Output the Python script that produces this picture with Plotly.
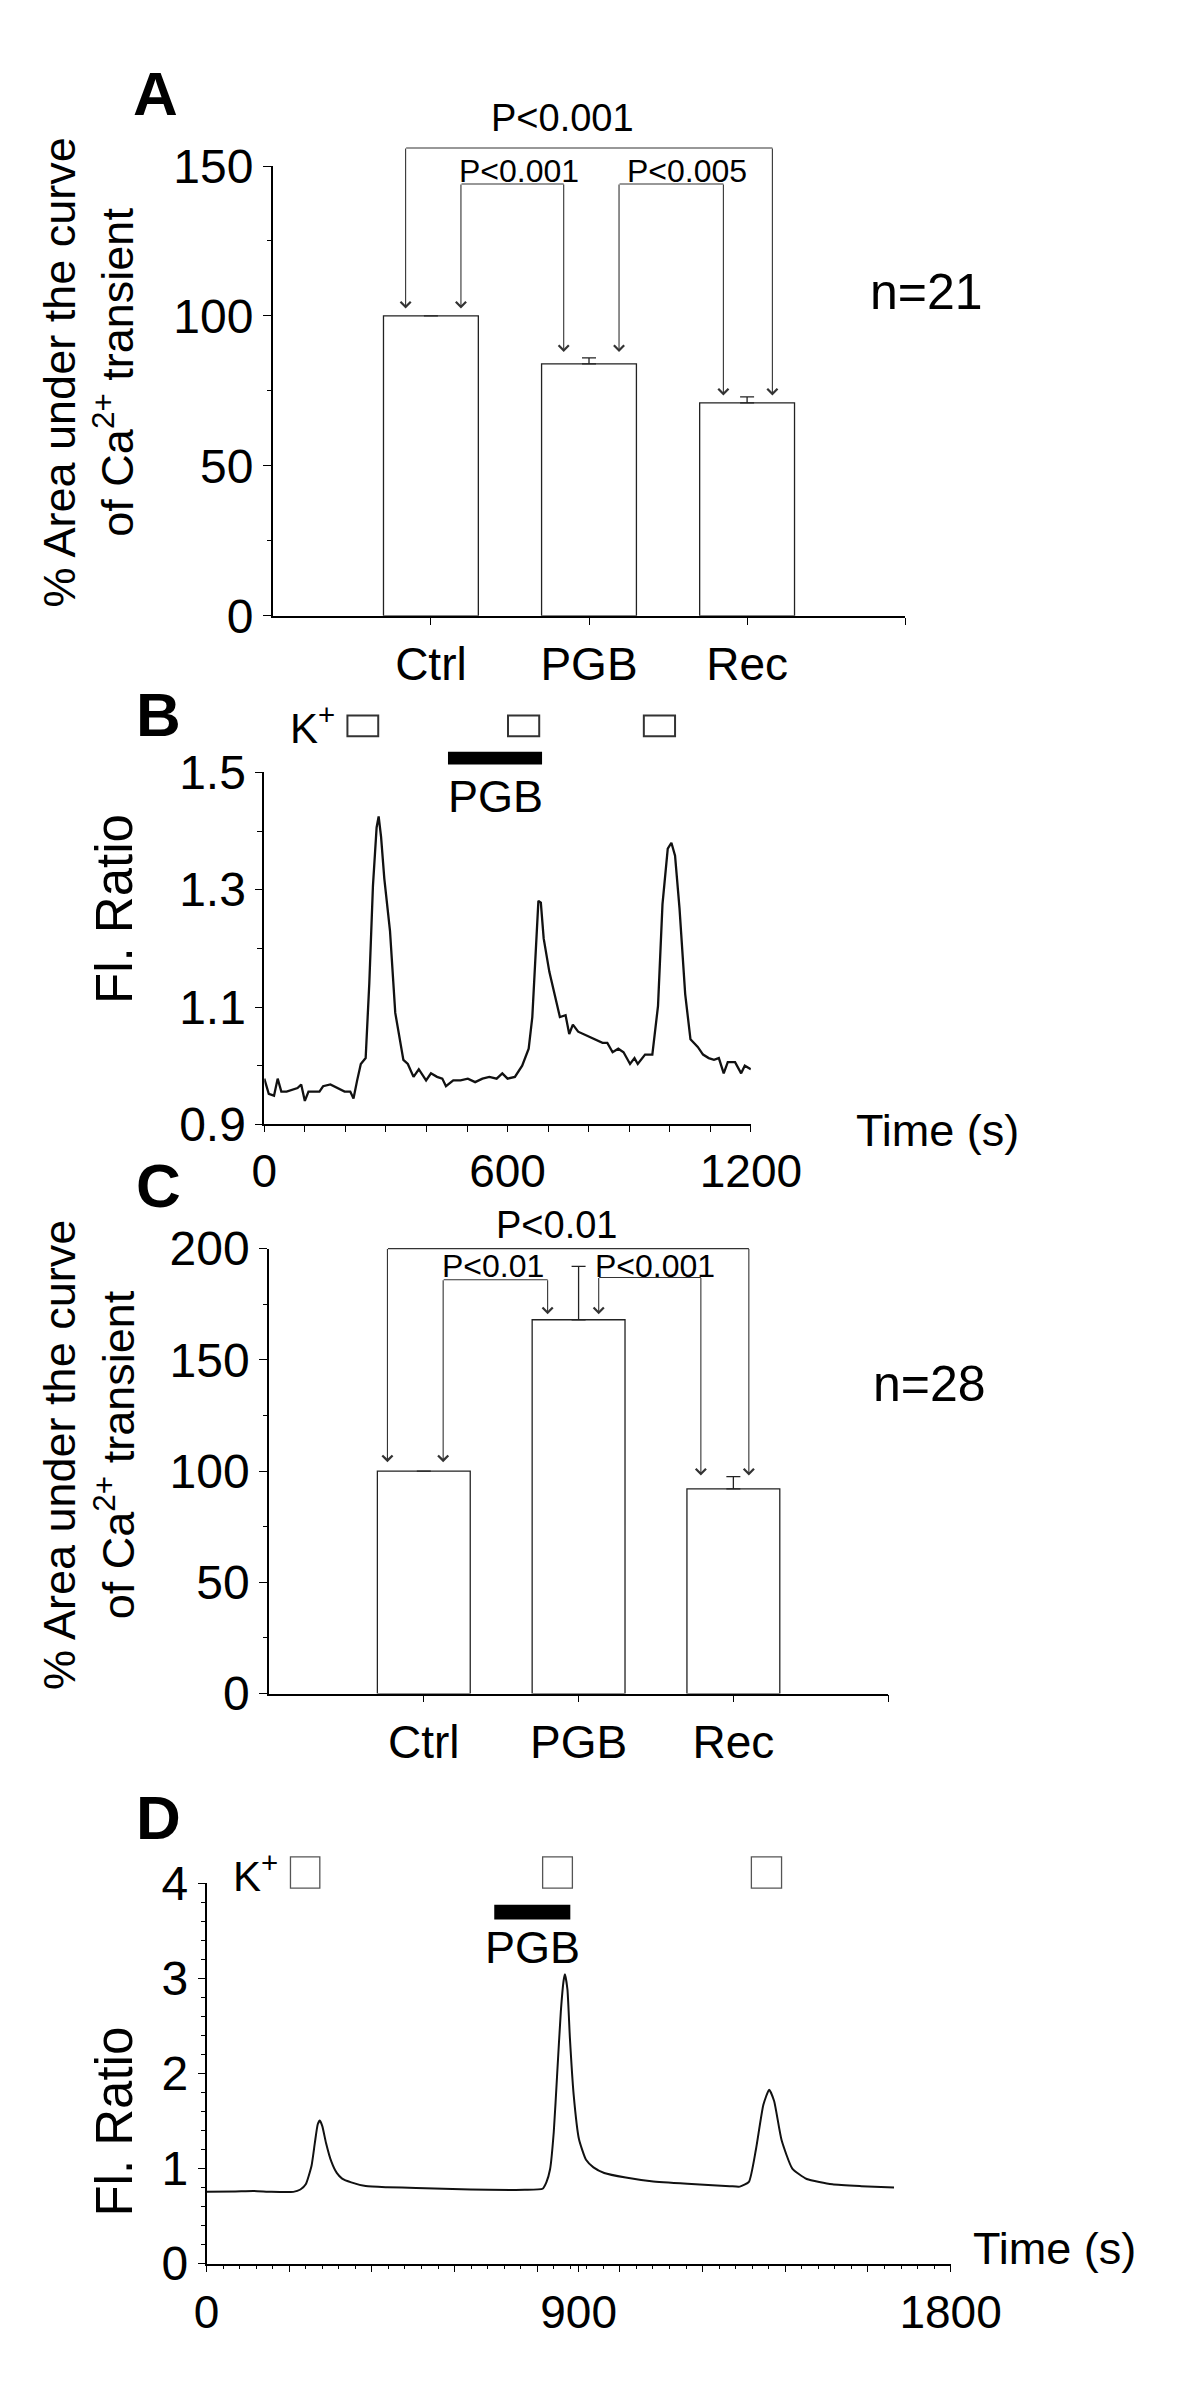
import plotly.graph_objects as go

# ---------------- data ----------------
categories = ["Ctrl", "PGB", "Rec"]

a_values = [100, 84, 71]
a_errors = [0, 2, 2]
a_pvals = ["P<0.001", "P<0.001", "P<0.005"]   # Ctrl-Rec, Ctrl-PGB, PGB-Rec
a_n = "n=21"

c_values = [100, 168, 92]
c_errors = [0, 24, 5.5]
c_pvals = ["P<0.01", "P<0.01", "P<0.001"]     # Ctrl-Rec, Ctrl-PGB, PGB-Rec
c_n = "n=28"

b_time = [0, 11, 24, 33, 42, 55, 82, 91, 100, 109, 136, 145, 163, 180, 198, 212, 220, 229, 238, 250,
          259, 268, 277, 282, 288, 296, 310, 323, 332, 343, 354, 368, 381, 399, 411, 426, 439, 448, 466, 484,
          502, 520, 538, 555, 573, 587, 600, 618, 636, 652, 661, 670, 676, 682, 689, 703, 716, 729, 743, 752,
          761, 774, 796, 814, 834, 846, 859, 873, 886, 902, 913, 921, 939, 957, 971, 982, 995, 1004, 1013, 1024,
          1038, 1051, 1069, 1082, 1096, 1109, 1121, 1133, 1143, 1161, 1176, 1185, 1200]
b_ratio = [0.978, 0.952, 0.949, 0.978, 0.956, 0.956, 0.962, 0.968, 0.940, 0.956, 0.956, 0.965, 0.968, 0.962, 0.956, 0.956, 0.944, 0.975, 1.003, 1.013,
           1.141, 1.307, 1.406, 1.425, 1.390, 1.319, 1.230, 1.090, 1.051, 1.010, 1.003, 0.981, 0.994, 0.975, 0.987, 0.981, 0.978, 0.965, 0.975, 0.975,
           0.978, 0.972, 0.978, 0.981, 0.978, 0.987, 0.978, 0.981, 1.000, 1.029, 1.083, 1.192, 1.281, 1.278, 1.217, 1.160, 1.122, 1.083, 1.086, 1.054,
           1.070, 1.058, 1.051, 1.045, 1.039, 1.039, 1.023, 1.029, 1.023, 1.003, 1.013, 1.003, 1.019, 1.019, 1.102, 1.275, 1.370, 1.380, 1.358, 1.268,
           1.122, 1.045, 1.032, 1.019, 1.013, 1.010, 1.013, 0.987, 1.006, 1.006, 0.987, 1.000, 0.994]
b_k_pulses = [(205, 281), (601, 678), (936, 1013)]
b_pgb = (453, 685)

d_time = [0, 70, 114, 157, 210, 227, 240, 254, 262, 269, 274, 280, 289, 302, 315, 328, 350, 385, 437, 507,
          595, 682, 770, 813, 822, 831, 840, 848, 857, 864, 867, 873, 879, 888, 901, 918, 936, 962, 1014, 1076,
          1163, 1266, 1290, 1312, 1329, 1347, 1361, 1373, 1391, 1417, 1452, 1514, 1584, 1663]
d_ratio = [0.755, 0.76, 0.765, 0.755, 0.755, 0.78, 0.835, 1.03, 1.27, 1.466, 1.505, 1.446, 1.27, 1.072, 0.954, 0.895, 0.855, 0.816, 0.804, 0.796,
           0.784, 0.776, 0.776, 0.788, 0.855, 0.993, 1.387, 1.978, 2.648, 2.983, 3.042, 2.885, 2.372, 1.781, 1.308, 1.092, 1.013, 0.954, 0.906, 0.867,
           0.84, 0.815, 0.81, 0.86, 1.2, 1.67, 1.83, 1.71, 1.30, 1.0, 0.89, 0.835, 0.815, 0.80]
d_k_pulses = [(203, 274), (813, 885), (1318, 1391)]
d_pgb = (696, 880)

b_xticks = list(range(0, 1300, 100))
b_xlabels = ["0", "600", "1200"]
d_xticks = [0, 200, 400, 600, 800, 900, 1000, 1200, 1400, 1600, 1800]
d_xlabels = ["0", "900", "1800"]

# ---------------- layout helpers ----------------
W, H = 1200, 2401
FONT = "Liberation Sans, Arial, Helvetica, sans-serif"


def px(p):
    return p / W


def py(p):
    return 1 - p / H


# y axes: pixel extent (bottom, top) and data range
Y_AXES = {
    "y": ((595, 135), (0, 150)),
    "y2": ((1115, 755), (0.9, 1.5)),
    "y3": ((1697, 1242), (0, 200)),
    "y4": ((2280, 1891), (0, 4)),
}


def ydom(name):
    (b, t), _ = Y_AXES[name]
    return [py(b), py(t)]


def ypaper(name, v):
    (b, t), (r0, r1) = Y_AXES[name]
    d0, d1 = py(b), py(t)
    return d0 + (v - r0) / (r1 - r0) * (d1 - d0)


xpos = [i + 1 for i in range(len(categories))]

fig = go.Figure()

bar_style = dict(width=0.6, marker=dict(color="white", line=dict(color="#222", width=1.3)))

fig.add_trace(go.Bar(x=xpos, y=a_values, xaxis="x", yaxis="y",
                     error_y=dict(type="data", symmetric=False, array=a_errors, arrayminus=[0] * 3,
                                  color="#222", thickness=1.3, width=7), **bar_style))
fig.add_trace(go.Scatter(x=b_time, y=b_ratio, xaxis="x2", yaxis="y2", mode="lines",
                         line=dict(color="#111", width=2.3)))
fig.add_trace(go.Bar(x=xpos, y=c_values, xaxis="x3", yaxis="y3",
                     error_y=dict(type="data", symmetric=False, array=c_errors, arrayminus=[0] * 3,
                                  color="#222", thickness=1.3, width=7), **bar_style))
fig.add_trace(go.Scatter(x=d_time, y=d_ratio, xaxis="x4", yaxis="y4", mode="lines",
                         line=dict(color="#111", width=2, shape="spline", smoothing=0.5)))

ytickfont = dict(family=FONT, size=48, color="black")
xtickfont = dict(family=FONT, size=46, color="black")
base_ax = dict(showline=True, linecolor="black", linewidth=1.6, ticks="outside", tickcolor="black",
               tickwidth=1.3, showgrid=False, zeroline=False, fixedrange=True)


def minor(dtick, tick0=0, ln=4):
    return dict(tickmode="linear", tick0=tick0, dtick=dtick, ticks="outside", ticklen=ln,
                tickcolor="black", tickwidth=1.1, showgrid=False)


def ticktext_for(vals, labels):
    return [str(v) if str(v) in labels else "" for v in vals]


fig.update_layout(
    width=W, height=H, margin=dict(l=0, r=0, t=0, b=0),
    paper_bgcolor="white", plot_bgcolor="rgba(0,0,0,0)", showlegend=False,
    font=dict(family=FONT, color="black"),
    # Panel A
    xaxis=dict(domain=[px(266), px(934)], range=[0, 4], anchor="y", tickfont=xtickfont,
               tickmode="array", tickvals=xpos + [4], ticktext=categories + [""], ticklen=7, **base_ax),
    yaxis=dict(domain=ydom("y"), range=list(Y_AXES["y"][1]), anchor="x", tickfont=ytickfont,
               tickmode="array", tickvals=[0, 50, 100, 150], ticklen=8, minor=minor(25), **base_ax),
    # Panel B
    xaxis2=dict(domain=[px(257), px(771)], range=[0, 1200], anchor="y2", tickfont=xtickfont,
                tickmode="array", tickvals=b_xticks, ticktext=ticktext_for(b_xticks, b_xlabels), ticklen=6,
                **base_ax),
    yaxis2=dict(domain=ydom("y2"), range=list(Y_AXES["y2"][1]), anchor="x2", tickfont=ytickfont,
                tickmode="array", tickvals=[0.9, 1.1, 1.3, 1.5], ticktext=["0.9", "1.1", "1.3", "1.5"],
                ticklen=7, minor=minor(0.1, 0.9, 5), **base_ax),
    # Panel C
    xaxis3=dict(domain=[px(262), px(916)], range=[0, 4], anchor="y3", tickfont=xtickfont,
                tickmode="array", tickvals=xpos + [4], ticktext=categories + [""], ticklen=7, **base_ax),
    yaxis3=dict(domain=ydom("y3"), range=list(Y_AXES["y3"][1]), anchor="x3", tickfont=ytickfont,
                tickmode="array", tickvals=[0, 50, 100, 150, 200], ticklen=8, minor=minor(25), **base_ax),
    # Panel D
    xaxis4=dict(domain=[px(196), px(982)], range=[0, 1800], anchor="y4", tickfont=xtickfont,
                tickmode="array", tickvals=d_xticks, ticktext=ticktext_for(d_xticks, d_xlabels), ticklen=7,
                minor=minor(40, 0, 4), **base_ax),
    yaxis4=dict(domain=ydom("y4"), range=list(Y_AXES["y4"][1]), anchor="x4", tickfont=ytickfont,
                tickmode="array", tickvals=[0, 1, 2, 3, 4], ticklen=7, minor=minor(0.2, 0, 4), **base_ax),
)


def text(x, y, s, size, xref="paper", angle=0, bold=False):
    fig.add_annotation(x=x, y=y, xref=xref, yref="paper", text=("<b>%s</b>" % s) if bold else s,
                       showarrow=False, textangle=angle, xanchor="center", yanchor="middle",
                       font=dict(family=FONT, size=size, color="black"))


ARROW = dict(showarrow=True, text="", font=dict(size=1), arrowcolor="#333", arrowwidth=1.1,
             borderpad=0, standoff=0, startstandoff=0)


def bracket(xr, yr, x1, x2, top, tip1, tip2):
    # horizontal bar of the bracket (may lie above the axis range -> paper y)
    fig.add_annotation(x=x2, y=ypaper(yr, top), xref=xr, yref="paper",
                       ax=x1, axref=xr, ay=0, ayref="pixel", arrowhead=0, **ARROW)
    # two downward arrows ending on the bars
    for xx, tip in ((x1, tip1), (x2, tip2)):
        fig.add_annotation(x=xx, y=tip, xref=xr, yref=yr, ax=xx, axref=xr, ay=top, ayref=yr,
                           arrowhead=4, arrowsize=1.8, **ARROW)


# bracket geometry: (x1, x2, top, tip1, tip2, label x, label y)
a_geom = [(0.84, 3.16, 156, 102.5, 73.5, 1.83, 166),
          (1.19, 1.84, 144, 102.5, 88, 1.56, 148.5),
          (2.19, 2.85, 144, 88, 73.5, 2.62, 148.5)]
for (x1, x2, top, t1, t2, lx, ly), lab, sz in zip(a_geom, a_pvals, [38, 32, 32]):
    bracket("x", "y", x1, x2, top, t1, t2)
    text(lx, ypaper("y", ly), lab, sz, "x")

c_geom = [(0.765, 3.10, 200, 104, 98, 1.86, 210.5),
          (1.125, 1.80, 186, 104, 170.5, 1.45, 192),
          (2.13, 2.79, 187, 170.5, 98, 2.495, 192)]
for (x1, x2, top, t1, t2, lx, ly), lab, sz in zip(c_geom, c_pvals, [38, 32, 32]):
    bracket("x3", "y3", x1, x2, top, t1, t2)
    text(lx, ypaper("y3", ly), lab, sz, "x3")

# K+ pulses and PGB application bars
for (t0, t1) in b_k_pulses:
    fig.add_shape(type="rect", xref="x2", yref="paper", x0=t0, x1=t1, y0=py(718), y1=py(697),
                  line=dict(color="#333", width=2), fillcolor="white")
fig.add_shape(type="rect", xref="x2", yref="paper", x0=b_pgb[0], x1=b_pgb[1], y0=py(747), y1=py(734),
              line=dict(width=0), fillcolor="black")
text(sum(b_pgb) / 2, py(780), "PGB", 45, "x2")
text(px(308), py(707), "K<sup>+</sup>", 42)

for (t0, t1) in d_k_pulses:
    fig.add_shape(type="rect", xref="x4", yref="paper", x0=t0, x1=t1, y0=py(1896), y1=py(1864),
                  line=dict(color="#555", width=1.3), fillcolor="white")
fig.add_shape(type="rect", xref="x4", yref="paper", x0=d_pgb[0], x1=d_pgb[1], y0=py(1928), y1=py(1913),
              line=dict(width=0), fillcolor="black")
text(sum(d_pgb) / 2, py(1957), "PGB", 45, "x4")
text(px(248), py(1881), "K<sup>+</sup>", 42)

# axis titles and labels
ytitle = "% Area under the curve<br>of Ca<sup>2+</sup> transient"
text(px(72), py(346), ytitle, 45, angle=-90)
text(px(72), py(1453), ytitle, 45, angle=-90)
text(px(99), py(895), "Fl. Ratio", 51, angle=-90)
text(px(99), py(2135), "Fl. Ratio", 51, angle=-90)
text(px(968), py(1121), "Time (s)", 45)
text(px(1092), py(2264), "Time (s)", 45)
text(px(957), py(264), a_n, 50)
text(px(960), py(1380), c_n, 50)

for lab, (x, y) in zip("ABCD", [(142, 61), (145, 696), (145, 1178), (145, 1824)]):
    text(px(x), py(y), lab, 62, bold=True)

fig.write_html("out.html")
